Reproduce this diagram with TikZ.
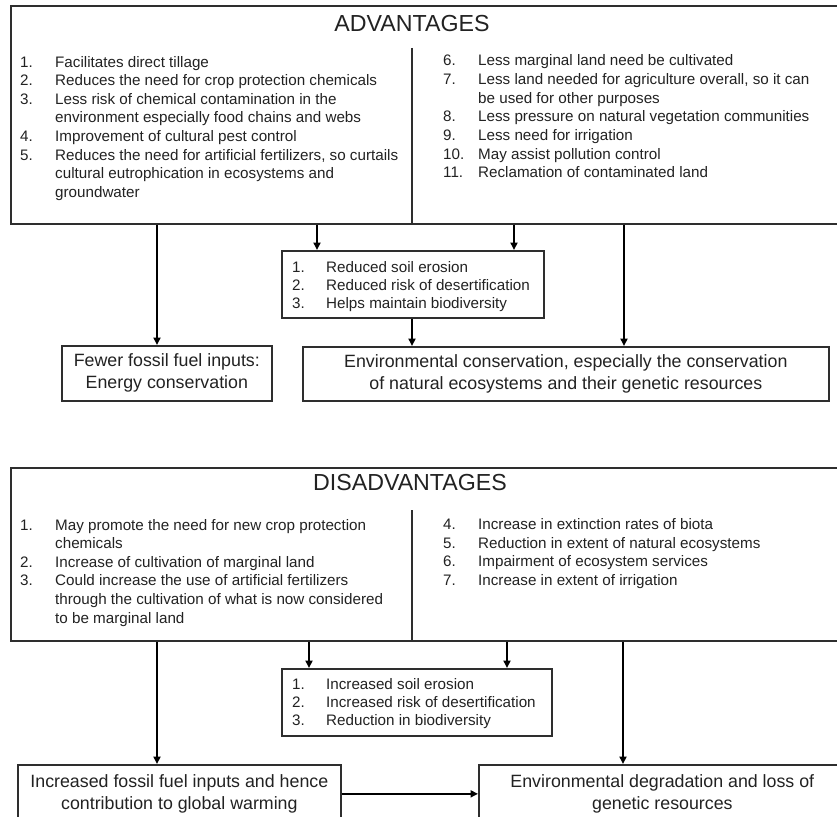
\documentclass[tikz,border=0pt]{standalone}
\usepackage{fontspec}
\setmainfont{Liberation Sans}
\usetikzlibrary{arrows.meta}
\definecolor{ink}{HTML}{222222}
\definecolor{edge}{HTML}{2E2E2E}
\newcommand{\numlist}[2]{\begin{tabular}[t]{@{}p{#1}@{}l@{}}#2\end{tabular}}
\tikzset{
  frame/.style={draw=edge, line width=1.7pt, inner sep=0pt, anchor=north west},
  boxtext/.style={frame, align=center, text=ink, font=\fontsize{17.8}{22}\selectfont},
  arr/.style={draw=black, line width=2pt, -{Triangle[length=7.5pt,width=7pt]}},
  divider/.style={draw=edge, line width=1.7pt},
  listtext/.style={anchor=base west, inner sep=0pt, text=ink, font=\fontsize{15.2}{18.6}\selectfont},
  smalllist/.style={anchor=base west, inner sep=0pt, text=ink, font=\fontsize{15.2}{18}\selectfont},
  titletext/.style={inner sep=0pt, text=ink, font=\fontsize{23.2}{27}\selectfont},
}
\begin{document}
\begin{tikzpicture}[x=1pt,y=-1pt]
\path[use as bounding box, clip] (0,0) rectangle (837,816);
\fill[white] (0,0) rectangle (837,816);

% column positions for connectors
\coordinate (xa1) at (157,0);
\coordinate (xa2) at (317,0);
\coordinate (xa3) at (514,0);
\coordinate (xa4) at (412,0);
\coordinate (xa5) at (624,0);
\coordinate (xd1) at (157,0);
\coordinate (xd2) at (309,0);
\coordinate (xd3) at (507,0);
\coordinate (xd5) at (623,0);

% ---------------- ADVANTAGES ----------------
\node[frame, minimum width=835pt, minimum height=218pt] (adv) at (10,5) {};
\node[titletext] (advT) at (412,24) {ADVANTAGES};
\coordinate (advD) at (412,48);
\draw[divider] (advD) -- (advD |- adv.south);
\node[listtext] (advL) at (20,67) {\numlist{35pt}{%
1.&Facilitates direct tillage\\
2.&Reduces the need for crop protection chemicals\\
3.&Less risk of chemical contamination in the\\
&environment especially food chains and webs\\
4.&Improvement of cultural pest control\\
5.&Reduces the need for artificial fertilizers, so curtails\\
&cultural eutrophication in ecosystems and\\
&groundwater}};
\node[listtext] (advR) at (443,66) {\numlist{35pt}{%
6.&Less marginal land need be cultivated\\
7.&Less land needed for agriculture overall, so it can\\
&be used for other purposes\\
8.&Less pressure on natural vegetation communities\\
9.&Less need for irrigation\\
10.&May assist pollution control\\
11.&Reclamation of contaminated land}};

\node[frame, minimum width=262pt, minimum height=67pt] (midA) at (281,250) {};
\node[smalllist] (midAL) at (292,272) {\numlist{34pt}{%
1.&Reduced soil erosion\\
2.&Reduced risk of desertification\\
3.&Helps maintain biodiversity}};

\node[boxtext, minimum width=210pt, minimum height=55pt] (fewer) at (61,345)
  {Fewer fossil fuel inputs:\\Energy conservation};
\node[boxtext, minimum width=526pt, minimum height=54pt] (env) at (302,346)
  {Environmental conservation, especially the conservation\\of natural ecosystems and their genetic resources};

\draw[arr] (adv.south -| xa1) -- (fewer.north -| xa1);
\draw[arr] (adv.south -| xa2) -- (midA.north -| xa2);
\draw[arr] (adv.south -| xa3) -- (midA.north -| xa3);
\draw[arr] (midA.south -| xa4) -- (env.north -| xa4);
\draw[arr] (adv.south -| xa5) -- (env.north -| xa5);

% ---------------- DISADVANTAGES ----------------
\node[frame, minimum width=835pt, minimum height=173pt] (dis) at (10,467) {};
\node[titletext] (disT) at (410,483) {DISADVANTAGES};
\coordinate (disD) at (412,510);
\draw[divider] (disD) -- (disD |- dis.south);
\node[listtext] (disL) at (20,530) {\numlist{35pt}{%
1.&May promote the need for new crop protection\\
&chemicals\\
2.&Increase of cultivation of marginal land\\
3.&Could increase the use of artificial fertilizers\\
&through the cultivation of what is now considered\\
&to be marginal land}};
\node[listtext] (disR) at (443,529.5) {\numlist{35pt}{%
4.&Increase in extinction rates of biota\\
5.&Reduction in extent of natural ecosystems\\
6.&Impairment of ecosystem services\\
7.&Increase in extent of irrigation}};

\node[frame, minimum width=270pt, minimum height=67pt] (midD) at (281,668) {};
\node[smalllist] (midDL) at (292,689) {\numlist{34pt}{%
1.&Increased soil erosion\\
2.&Increased risk of desertification\\
3.&Reduction in biodiversity}};

\node[boxtext, minimum width=323pt, minimum height=58pt] (botL) at (17,764)
  {Increased fossil fuel inputs and hence\\contribution to global warming};
\node[boxtext, minimum width=367pt, minimum height=58pt] (botR) at (478,764)
  {Environmental degradation and loss of\\genetic resources};

\draw[arr] (dis.south -| xd1) -- (botL.north -| xd1);
\draw[arr] (dis.south -| xd2) -- (midD.north -| xd2);
\draw[arr] (dis.south -| xd3) -- (midD.north -| xd3);
\draw[arr] (dis.south -| xd5) -- (botR.north -| xd5);
\draw[arr] (botL.east) -- (botR.west);
\end{tikzpicture}
\end{document}
